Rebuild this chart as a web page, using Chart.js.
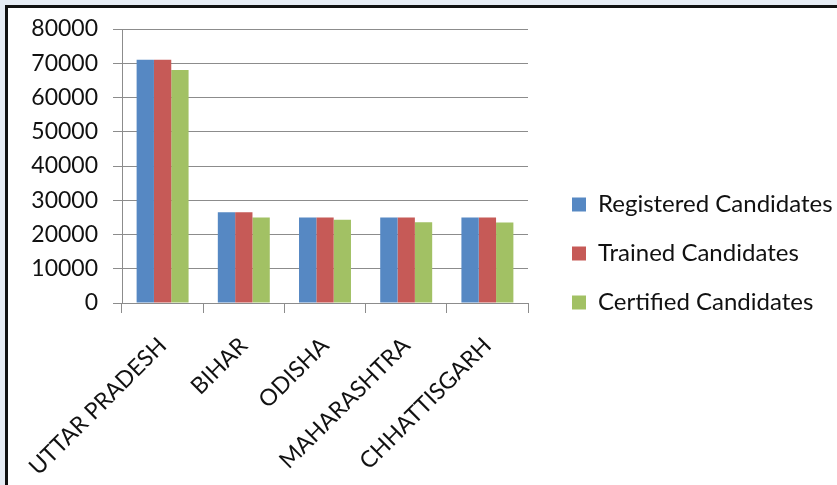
<!DOCTYPE html>
<html>
<head>
<meta charset="utf-8">
<script src="https://cdn.jsdelivr.net/npm/chart.js@4.4.1/dist/chart.umd.min.js"></script>
<style>
  html, body { margin: 0; padding: 0; background: #e6ecf4; }
  #frame {
    position: absolute; left: 5px; top: 5px; width: 832px; height: 480px;
    border-left: 3px solid #111; border-top: 3px solid #111; background: #fff;
  }
  #wrap { position: absolute; left: 0; top: 0; width: 829px; height: 477px; }
</style>
</head>
<body>
<div id="frame"><div id="wrap"><canvas id="chart"></canvas></div></div>
<script>
const states = ["UTTAR PRADESH", "BIHAR", "ODISHA", "MAHARASHTRA", "CHHATTISGARH"];
const registered = [71000, 26500, 25000, 25000, 25000];
const trained = [71000, 26500, 25000, 25000, 25000];
const certified = [68000, 25000, 24300, 23600, 23500];
const yTicks = [0, 10000, 20000, 30000, 40000, 50000, 60000, 70000, 80000];

const font = "Lato";
const gray = "#8c8c8c";

// the legend takes a fixed width on the right, like the original sheet
const legendWidth = {
  id: "legendWidth",
  beforeLayout(chart) {
    const legend = chart.legend;
    if (!legend || legend._fixedFit) return;
    const fit = legend.fit;
    legend.fit = function () {
      fit.call(this);
      this.width = 290;
    };
    legend._fixedFit = true;
  },
};

const ctx = document.getElementById("chart").getContext("2d");
new Chart(ctx, {
  type: "bar",
  data: {
    labels: states,
    datasets: [
      { label: "Registered Candidates", data: registered, backgroundColor: "#5688c3" },
      { label: "Trained Candidates", data: trained, backgroundColor: "#c65a57" },
      { label: "Certified Candidates", data: certified, backgroundColor: "#a2c164" },
    ],
  },
  options: {
    responsive: true,
    maintainAspectRatio: false,
    animation: false,
    layout: { padding: { top: 21, left: 0, right: 0, bottom: 7 } },
    datasets: { bar: { categoryPercentage: 0.64, barPercentage: 1.0 } },
    plugins: {
      tooltip: { enabled: false },
      legend: {
        position: "right",
        labels: {
          boxWidth: 14,
          boxHeight: 14,
          padding: 25,
          color: "#111",
          font: { family: font, size: 24 },
        },
      },
    },
    scales: {
      x: {
        offset: true,
        grid: { offset: true, drawOnChartArea: false, tickLength: 10, color: gray },
        border: { color: gray },
        ticks: {
          autoSkip: false,
          minRotation: 45,
          maxRotation: 45,
          padding: 19,
          color: "#111",
          font: { family: font, size: 23 },
        },
        afterFit: (scale) => {
          scale.height = 175;
          scale.paddingLeft = 0;
          scale.paddingRight = 0;
        },
      },
      y: {
        min: 0,
        max: 80000,
        afterBuildTicks: (scale) => { scale.ticks = yTicks.map((v) => ({ value: v })); },
        grid: { tickLength: 9, color: gray },
        border: { color: gray },
        ticks: {
          padding: 15,
          color: "#111",
          font: { family: font, size: 23 },
          callback: (v) => String(v),
        },
        afterFit: (scale) => {
          scale.width = 114;
          scale.paddingTop = 0;
          scale.paddingBottom = 0;
        },
      },
      gap: {
        type: "linear",
        position: "right",
        display: true,
        grid: { display: false },
        border: { display: false },
        ticks: { display: false },
        afterFit: (scale) => { scale.width = 19; },
      },
    },
  },
  plugins: [legendWidth],
});
</script>
</body>
</html>
